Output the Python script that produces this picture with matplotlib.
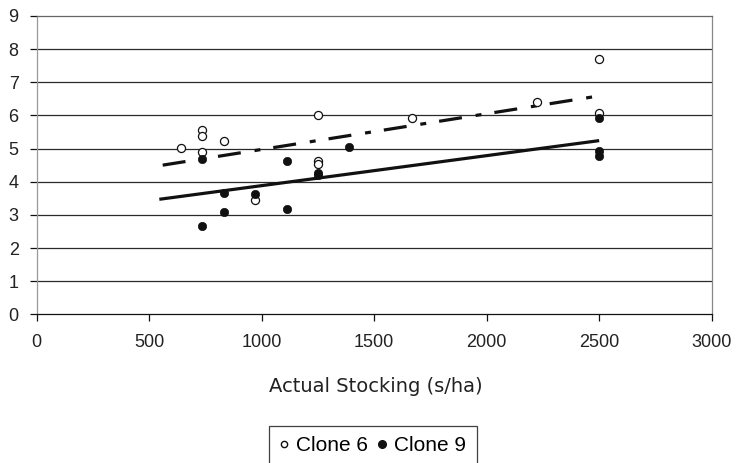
import matplotlib
matplotlib.use("Agg")
import matplotlib.pyplot as plt
from matplotlib.lines import Line2D

plt.rcParams['font.family'] = ['Liberation Sans', 'DejaVu Sans']
plt.rcParams['lines.scale_dashes'] = False

# Clone 6 (open circles)
clone6_x = [640, 735, 735, 735, 833, 972, 1250, 1250, 1250, 1667, 2222, 2500, 2500]
clone6_y = [5.03, 5.55, 5.37, 4.90, 5.24, 3.44, 6.00, 4.63, 4.53, 5.91, 6.41, 7.69, 6.06]
# Clone 9 (filled circles)
clone9_x = [735, 735, 833, 833, 972, 1111, 1111, 1250, 1250, 1389, 2500, 2500, 2500]
clone9_y = [4.68, 2.67, 3.65, 3.09, 3.62, 4.62, 3.19, 4.26, 4.20, 5.04, 5.91, 4.94, 4.78]

# trend lines (end points)
trend6_x = [560, 2500]
trend6_y = [4.50, 6.59]
trend9_x = [545, 2500]
trend9_y = [3.47, 5.24]

xticks = [0, 500, 1000, 1500, 2000, 2500, 3000]
yticks = [0, 1, 2, 3, 4, 5, 6, 7, 8, 9]

fig = plt.figure(figsize=(7.4, 4.63), dpi=100)
ax = fig.add_axes([36.7/740, 1-314.3/463, (711.7-36.7)/740, (314.3-16)/463])

ax.set_xlim(0, 3000)
ax.set_ylim(0, 9)
for y in yticks[1:-1]:
    ax.axhline(y, color='#2a2a2a', lw=0.9, zorder=1)

ax.plot(trend6_x, trend6_y, color='#111111', lw=2.3, dashes=(16.6, 10, 4.3, 9.4),
        solid_capstyle='butt', dash_capstyle='butt', zorder=3)
ax.plot(trend9_x, trend9_y, color='#111111', lw=2.3, solid_capstyle='butt', zorder=3)

ax.scatter(clone6_x, clone6_y, s=34, facecolor='white', edgecolor='#111111', linewidths=0.9, zorder=4)
ax.scatter(clone9_x, clone9_y, s=36, facecolor='#111111', edgecolor='#111111', linewidths=0.5, zorder=5)

ax.set_xticks(xticks)
ax.set_yticks(yticks)
ax.tick_params(axis='both', labelsize=13, color='#111111', length=5, width=0.9, colors='#222222')
ax.tick_params(axis='x', pad=9)
ax.tick_params(axis='y', pad=8)

ax.spines['left'].set_color('#999999')
ax.spines['right'].set_color('#888888')
ax.spines['top'].set_color('#666666')
ax.spines['bottom'].set_color('#111111')
for s in ax.spines.values():
    s.set_linewidth(0.9)

fig.text(375.5/740, 1-386/463, 'Actual Stocking (s/ha)', ha='center', va='center',
         fontsize=14, family=['DejaVu Sans'], color='#222222')

handles = [Line2D([], [], ls='none', marker='o', ms=4.5, mfc='white', mec='#111111', mew=1.0),
           Line2D([], [], ls='none', marker='o', ms=5.5, mfc='#111111', mec='#111111')]
leg = fig.legend(handles, ['Clone 6', 'Clone 9'], loc='upper left',
                 bbox_to_anchor=(269.3/740, 1-426/463), ncol=2, fontsize=15,
                 frameon=True, fancybox=False, edgecolor='#111111', handlelength=0.4,
                 handletextpad=0.4, columnspacing=0.45, borderpad=0.5, borderaxespad=0)
leg.get_frame().set_linewidth(0.9)

fig.savefig('out.png', dpi=100)
